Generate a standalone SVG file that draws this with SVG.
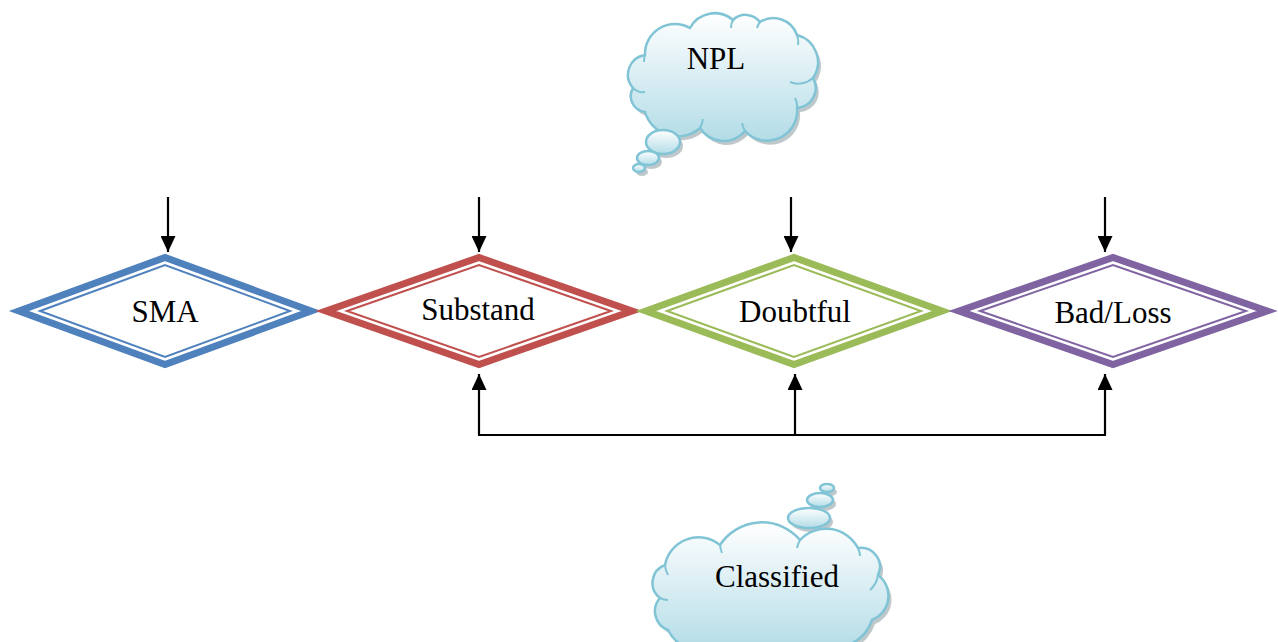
<svg xmlns="http://www.w3.org/2000/svg" width="1278" height="642" viewBox="0 0 1278 642">
<style>
.lbl{font-family:"Liberation Serif","Times New Roman",serif;font-size:31px;fill:#000;text-anchor:middle}
.outer{fill:#fff;stroke-width:7;stroke-linejoin:miter;stroke-miterlimit:10}
.inner{fill:none;stroke-width:2;stroke-linejoin:miter;stroke-miterlimit:10}
.conn{fill:none;stroke:#000;stroke-width:2.2}
.cloud{fill:url(#cg);stroke:#80c4d5;stroke-width:2.5}
.shadow{fill:#8a9aa0;opacity:0.55}
.crease{fill:none;stroke:#80c4d5;stroke-width:2}
</style>
<defs>
<linearGradient id="cg" x1="0" y1="0" x2="0" y2="1">
<stop offset="0" stop-color="#ffffff"/>
<stop offset="1" stop-color="#b3dce7"/>
</linearGradient>
<marker id="ah" markerWidth="16" markerHeight="15" refX="16" refY="7.5" orient="auto" markerUnits="userSpaceOnUse">
<path d="M0,0 L16,7.5 L0,15 Z" fill="#000"/>
</marker>
</defs>

<g id="cloud-npl">
<g transform="translate(3,4)" class="shadow">
<path d="M633,88 A20,20 0 0 1 645,55 A30,30 0 0 1 690,28 A28,28 0 0 1 733,20 A18,18 0 0 1 760,22 A25,25 0 0 1 797,35 A28,28 0 0 1 813,78 A20,20 0 0 1 797,108 A30,30 0 0 1 745,131 A28,28 0 0 1 700,128 A34,34 0 0 1 645,112 A16,16 0 0 1 633,88 Z"/>
<ellipse cx="663" cy="142" rx="17" ry="12"/>
<ellipse cx="648" cy="158" rx="11" ry="7"/>
<ellipse cx="639" cy="168" rx="6" ry="4"/>
</g>
<path class="cloud" d="M633,88 A20,20 0 0 1 645,55 A30,30 0 0 1 690,28 A28,28 0 0 1 733,20 A18,18 0 0 1 760,22 A25,25 0 0 1 797,35 A28,28 0 0 1 813,78 A20,20 0 0 1 797,108 A30,30 0 0 1 745,131 A28,28 0 0 1 700,128 A34,34 0 0 1 645,112 A16,16 0 0 1 633,88 Z"/>
<path class="crease" d="M633,88 A14,14 0 0 0 645,92 M645,55 A20,20 0 0 0 644,62 M733,20 A15,15 0 0 0 731,28 M760,22 A15,15 0 0 0 757,28 M797,35 A22,22 0 0 1 798,45 M813,78 A22,22 0 0 1 790,82 M797,108 A17,17 0 0 0 795,98 M745,131 A27,27 0 0 1 742,123 M700,128 A24,24 0 0 0 703,119"/>
<ellipse class="cloud" cx="663" cy="142" rx="17" ry="12"/>
<ellipse class="cloud" cx="648" cy="158" rx="11" ry="7"/>
<ellipse class="cloud" cx="639" cy="168" rx="6" ry="4"/>
<text class="lbl" x="716" y="69">NPL</text>
</g>

<g id="cloud-classified">
<g transform="translate(3,4)" class="shadow">
<path d="M660,598 A19,19 0 0 1 665,565 A34,34 0 0 1 720,545 A50,50 0 0 1 800,540 A36,36 0 0 1 858,548 A19,19 0 0 1 878,575 A26,26 0 0 1 872,620 A40,40 0 0 1 820,645 L720,648 A40,40 0 0 1 668,630 A20,20 0 0 1 660,598 Z"/>
<ellipse cx="809" cy="518" rx="21" ry="10"/>
<ellipse cx="820" cy="500" rx="13" ry="7"/>
<ellipse cx="827" cy="488" rx="7" ry="4"/>
</g>
<path class="cloud" d="M660,598 A19,19 0 0 1 665,565 A34,34 0 0 1 720,545 A50,50 0 0 1 800,540 A36,36 0 0 1 858,548 A19,19 0 0 1 878,575 A26,26 0 0 1 872,620 A40,40 0 0 1 820,645 L720,648 A40,40 0 0 1 668,630 A20,20 0 0 1 660,598 Z"/>
<path class="crease" d="M660,598 A17,17 0 0 0 668,600 M665,565 A22,22 0 0 0 668,575 M720,545 A30,30 0 0 0 722,553 M800,540 A30,30 0 0 0 797,548 M858,548 A22,22 0 0 1 860,556 M878,575 A24,24 0 0 1 870,590"/>
<ellipse class="cloud" cx="809" cy="518" rx="21" ry="10"/>
<ellipse class="cloud" cx="820" cy="500" rx="13" ry="7"/>
<ellipse class="cloud" cx="827" cy="488" rx="7" ry="4"/>
<text class="lbl" x="777" y="587">Classified</text>
</g>

<g id="node-sma">
<polygon class="outer" stroke="#4f81bd" points="19,311 165,257.5 311,311 165,364.5"/>
<polygon class="inner" stroke="#4f81bd" points="40,311 165,265 290,311 165,357"/>
<text class="lbl" x="165" y="322">SMA</text>
</g>
<g id="node-substand">
<polygon class="outer" stroke="#c0504d" points="326,311 479,257.5 632,311 479,364.5"/>
<polygon class="inner" stroke="#c0504d" points="347,311 479,265 611,311 479,357"/>
<text class="lbl" x="478" y="320">Substand</text>
</g>
<g id="node-doubtful">
<polygon class="outer" stroke="#9bbb59" points="646,311 794,257.5 942,311 794,364.5"/>
<polygon class="inner" stroke="#9bbb59" points="667,311 794,265 921,311 794,357"/>
<text class="lbl" x="795" y="322">Doubtful</text>
</g>
<g id="node-badloss">
<polygon class="outer" stroke="#8064a2" points="959,311 1113,257.5 1267,311 1113,364.5"/>
<polygon class="inner" stroke="#8064a2" points="980,311 1113,265 1246,311 1113,357"/>
<text class="lbl" x="1113" y="323">Bad/Loss</text>
</g>

<g id="connectors">
<line class="conn" x1="168" y1="197" x2="168" y2="252" marker-end="url(#ah)"/>
<line class="conn" x1="479" y1="197" x2="479" y2="252" marker-end="url(#ah)"/>
<line class="conn" x1="791" y1="197" x2="791" y2="252" marker-end="url(#ah)"/>
<line class="conn" x1="1105" y1="197" x2="1105" y2="252" marker-end="url(#ah)"/>
<line class="conn" x1="479" y1="435" x2="479" y2="374" marker-end="url(#ah)"/>
<line class="conn" x1="795" y1="435" x2="795" y2="374" marker-end="url(#ah)"/>
<line class="conn" x1="1105" y1="435" x2="1105" y2="374" marker-end="url(#ah)"/>
<line class="conn" x1="478" y1="435" x2="1106" y2="435"/>
</g>
</svg>
